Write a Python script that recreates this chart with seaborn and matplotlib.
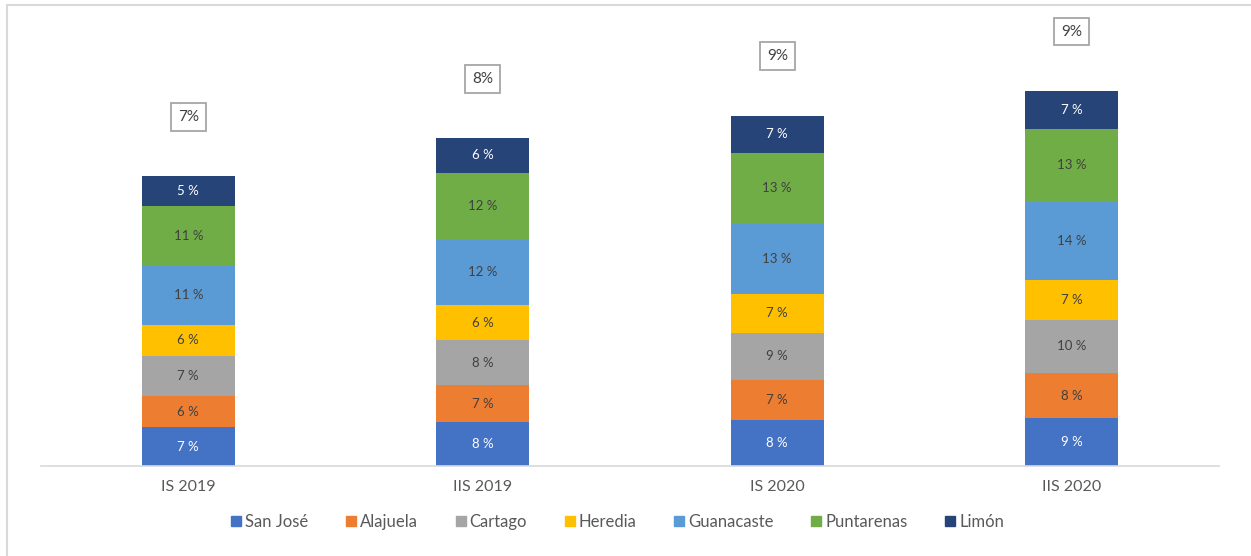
import matplotlib
matplotlib.use("Agg")
import matplotlib.pyplot as plt
import seaborn as sns
import numpy as np
from matplotlib.lines import Line2D

categories = ["IS 2019", "IIS 2019", "IS 2020", "IIS 2020"]
series_names = ["San José", "Alajuela", "Cartago", "Heredia", "Guanacaste", "Puntarenas", "Limón"]
san_jose   = [7.1, 8.0, 8.4, 8.7]
alajuela   = [5.6, 6.7, 7.3, 8.2]
cartago    = [7.4, 8.2, 8.6, 9.8]
heredia    = [5.6, 6.4, 7.1, 7.3]
guanacaste = [10.8, 12.0, 12.8, 14.2]
puntarenas = [10.9, 12.2, 12.8, 13.3]
limon      = [5.4, 6.3, 6.9, 6.9]
total_labels = ["7%", "8%", "9%", "9%"]

colors = ["#4472C4", "#ED7D31", "#A5A5A5", "#FFC000", "#5B9BD5", "#70AD47", "#264478"]
text_colors = ["white", "#404040", "#404040", "#404040", "#404040", "#404040", "white"]

sns.set_theme(style="white")
plt.rcParams["font.family"] = ["Lato", "DejaVu Sans"]

fig = plt.figure(figsize=(12.51, 5.56), dpi=100)
ax = fig.add_axes([41/1251, (556-466)/556, (1219-41)/1251, (466-8)/556])

data = [san_jose, alajuela, cartago, heredia, guanacaste, puntarenas, limon]
bottom = np.zeros(len(categories))
for name, vals, c, tc in zip(series_names, data, colors, text_colors):
    vals = np.array(vals)
    sns.barplot(x=categories, y=vals, bottom=bottom, color=c, width=0.316,
                ax=ax, label=name, saturation=1, edgecolor="none", linewidth=0)
    for i, v in enumerate(vals):
        ax.text(i, bottom[i] + v/2, f"{round(v)} %", ha="center", va="center",
                fontsize=9.5, color=tc)
    bottom = bottom + vals

for i, t in enumerate(total_labels):
    ax.text(i, bottom[i] + 10.8, t, ha="center", va="center", fontsize=11,
            color="#404040",
            bbox=dict(boxstyle="square,pad=0.45", fc="white", ec="#A6A6A6", lw=1.3))

ax.set_xlim(-0.5, 3.5)
ax.set_ylim(0, 83.5)
ax.set_yticks([])
for s in ["top", "right", "left"]:
    ax.spines[s].set_visible(False)
ax.spines["bottom"].set_color("#D9D9D9")
ax.spines["bottom"].set_linewidth(1.2)
ax.tick_params(axis="x", length=0, pad=10, labelsize=11.5, labelcolor="#595959")
ax.set_xlabel("")
ax.set_ylabel("")

handles = [Line2D([0], [0], marker="s", linestyle="none", markersize=7.5,
                  markerfacecolor=c, markeredgecolor=c) for c in colors]
fig.legend(handles, series_names, loc="center", bbox_to_anchor=(616/1251, 1 - 522/556),
           ncol=7, frameon=False, fontsize=12, handletextpad=0.05, columnspacing=2.05,
           labelcolor="#595959", handlelength=1.0)
if ax.get_legend():
    ax.get_legend().remove()

# frame lines (left and top) as in the cropped screenshot
fig.add_artist(Line2D([6.5/1251, 6.5/1251], [0, 1 - 4.5/556], color="#D9D9D9", lw=1.5))
fig.add_artist(Line2D([6.5/1251, 1], [1 - 4.5/556, 1 - 4.5/556], color="#D9D9D9", lw=1.5))

fig.savefig("out.png", dpi=100, facecolor="white")
